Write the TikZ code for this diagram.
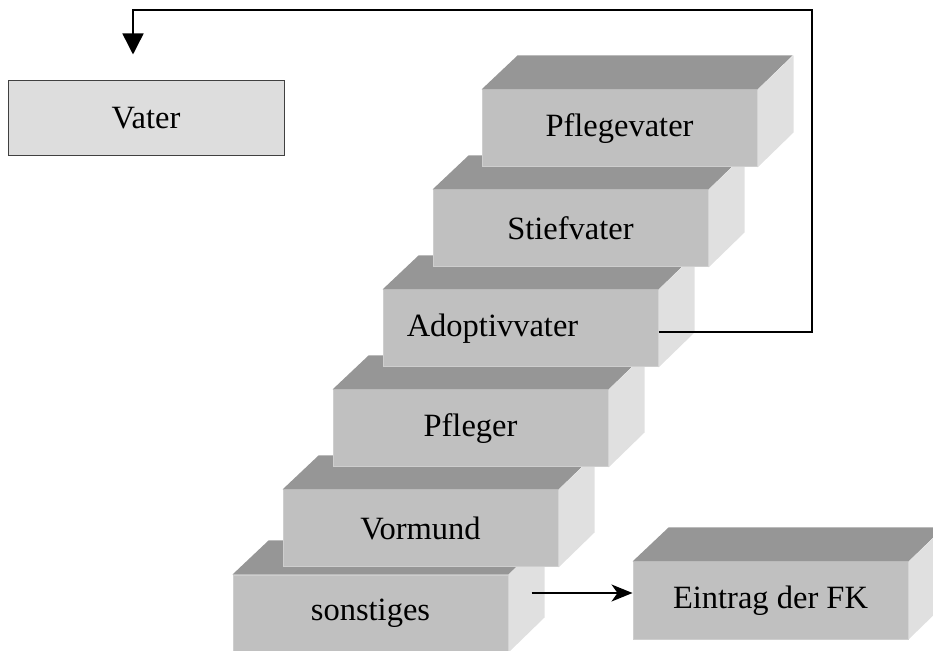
\documentclass[tikz,border=0pt]{standalone}
\usepackage{fontspec}
\setmainfont{Liberation Serif}
\usepackage{tikz}
\usetikzlibrary{arrows.meta}
\usepackage{xcolor}

\definecolor{frontgray}{RGB}{192,192,192}
\definecolor{rimgray}{RGB}{206,206,206}
\definecolor{topgray}{RGB}{150,150,150}
\definecolor{sidegray}{RGB}{224,224,224}
\definecolor{flatgray}{RGB}{221,221,221}

\tikzset{
  stufe/.style={fill=frontgray, draw=rimgray, line width=1pt, minimum width=275pt,
    minimum height=77pt, inner sep=0pt, font=\fontsize{32.5}{39}\selectfont},
  flach/.style={fill=flatgray, draw=black!75, line width=1pt, minimum width=276pt,
    minimum height=75pt, inner sep=0pt, font=\fontsize{32.5}{39}\selectfont}
}

% top and side face of a block
\newcommand{\quader}[1]{%
  \fill[topgray] (#1.north west) -- ++(36pt,34pt) -- ++(275pt,0) -- (#1.north east) -- cycle;
  \fill[sidegray] (#1.north east) -- ++(36pt,34pt) -- ++(0,-77pt) -- (#1.south east) -- cycle;
}

\begin{document}
\begin{tikzpicture}[x=1pt,y=1pt,>=Stealth]
      \useasboundingbox (0,0) rectangle (933,650);
      \foreach \n/\x/\y/\t in {sonst/370.5/36.5/sonstiges, vormund/420.5/121.5/Vormund,
        pfleger/470.5/221.5/Pfleger, adoptiv/520.5/321.5/Adoptivvater\hspace*{56pt},
        stief/570.5/421.5/Stiefvater, pflege/619.5/521.5/Pflegevater}{
        \node[stufe] (\n) at (\x,\y) {\t};
        \quader{\n}
      }
      \node[stufe] (eintrag) at (770.5,49.5) {Eintrag der FK};
      \quader{eintrag}
      \node[flach] (vater) at (146,531.5) {Vater};
      \coordinate (oben) at (812,640);
      \coordinate (pfeilstart) at ([xshift=23pt,yshift=20.5pt]sonst.east);
      \draw[line width=1.5pt,-{Triangle[length=21pt,width=21pt]}]
        ([yshift=-3.5pt]adoptiv.east) -| (oben) -| ([xshift=-13pt,yshift=26pt]vater.north);
      \draw[line width=1.5pt,-{Stealth[length=21pt,width=17pt,inset=6pt]}]
        (pfeilstart) -- ([yshift=7.5pt]eintrag.west);
    \end{tikzpicture}
\end{document}
